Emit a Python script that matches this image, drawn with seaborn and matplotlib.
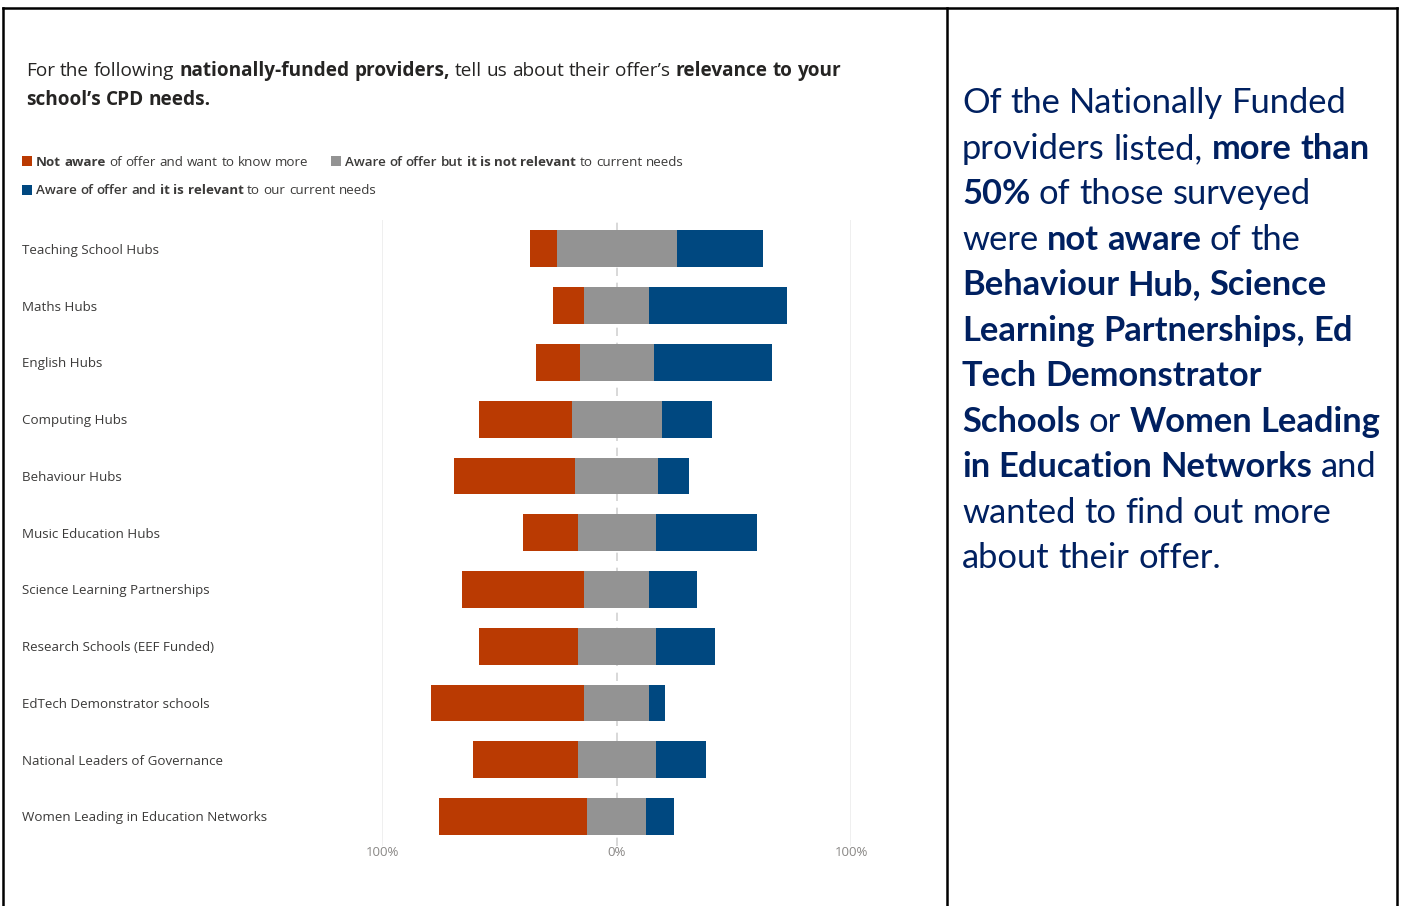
import numpy as np
import pandas as pd
import seaborn as sns
import matplotlib
matplotlib.use("Agg")
import matplotlib.pyplot as plt
from matplotlib.lines import Line2D
from matplotlib.patches import Rectangle

# ---- data -------------------------------------------------------------
providers = [
    "Teaching School Hubs",
    "Maths Hubs",
    "English Hubs",
    "Computing Hubs",
    "Behaviour Hubs",
    "Music Education Hubs",
    "Science Learning Partnerships",
    "Research Schools (EEF Funded)",
    "EdTech Demonstrator schools",
    "National Leaders of Governance",
    "Women Leading in Education Networks",
]
not_aware = [11.4, 13.1, 18.5, 39.8, 51.5, 23.5, 52.1, 42.3, 65.3, 44.8, 63.3]
not_relevant = [51.3, 27.9, 31.6, 38.3, 35.6, 33.3, 27.9, 33.3, 27.9, 33.3, 25.0]
relevant = [36.8, 58.9, 50.4, 21.6, 13.1, 43.1, 20.3, 25.2, 6.7, 21.5, 11.8]
tick_values = [-100, 0, 100]
tick_labels = ["100%", "0%", "100%"]

# ---- style ------------------------------------------------------------
sns.set_theme(style="white")
UI_FONT = ["Open Sans", "DejaVu Sans"]
BODY_FONT = ["Lato", "DejaVu Sans"]
plt.rcParams["font.family"] = UI_FONT

C_ORANGE = "#BA3A02"
C_GREY = "#939393"
C_BLUE = "#004880"
C_NAVY = "#002060"
C_TEXT = "#252423"
C_LABEL = "#3b3a39"

W, H = 1402, 906
fig = plt.figure(figsize=(W / 100, H / 100), dpi=100)
fig.patch.set_facecolor("white")


def fx(x):
    return x / W


def fy(y):
    return 1 - y / H


# ---- diverging stacked bars --------------------------------------------
ax_l, ax_r, ax_t, ax_b = 382.3, 851.0, 220.0, 846.0
ax = fig.add_axes([fx(ax_l), fy(ax_b), (ax_r - ax_l) / W, (ax_b - ax_t) / H])

df = pd.DataFrame({
    "provider": providers,
    "not_aware": not_aware,
    "not_relevant": not_relevant,
    "relevant": relevant,
})
left_grey = -df["not_relevant"] / 2
left_orange = left_grey - df["not_aware"]
left_blue = df["not_relevant"] / 2

for col, left, colour in [
    ("not_aware", left_orange, C_ORANGE),
    ("not_relevant", left_grey, C_GREY),
    ("relevant", left_blue, C_BLUE),
]:
    sns.barplot(
        data=df, y="provider", x=col, order=providers, orient="h",
        left=left.to_numpy(), color=colour, saturation=1, errorbar=None,
        width=0.65, linewidth=0, edgecolor="none", ax=ax, zorder=3,
    )

ax.set_xlim(-100, 100)
ax.set_ylim(len(providers) - 0.48, -0.51)
for v in (-100, 100):
    ax.axvline(v, color="#ececec", lw=1.2, zorder=0)
ax.axvline(0, color="#d2d2d2", lw=1.2, ls=(0, (5, 4)), zorder=0)
for s in ax.spines.values():
    s.set_visible(False)
ax.set_xlabel("")
ax.set_ylabel("")
ax.set_xticks(tick_values)
ax.set_xticklabels(tick_labels)
ax.tick_params(axis="x", length=0, pad=0, labelsize=9.5, labelcolor="#8a8886")
ax.tick_params(axis="y", length=0, pad=(ax_l - 22) * 0.72, labelsize=9.6,
               labelcolor=C_LABEL)
for lab in ax.get_yticklabels():
    lab.set_horizontalalignment("left")

# ---- rich text helpers --------------------------------------------------
renderer = fig.canvas.get_renderer()


def text_width(s, **kw):
    t = fig.text(0, 0, s, **kw)
    w = t.get_window_extent(renderer).width
    t.remove()
    return w


def rich_line(x, y, parts, size, color, family):
    """Draw a line of text made of (string, weight) runs, word by word."""
    base = dict(fontsize=size, family=family)
    words = []
    for s, wt in parts:
        for w in s.split(" "):
            if w:
                words.append((w, wt))
    for i, (w, wt) in enumerate(words):
        kw = dict(base, fontweight=wt)
        t = fig.text(fx(x), fy(y), w, color=color, va="baseline", ha="left", **kw)
        x += t.get_window_extent(renderer).width
        if i < len(words) - 1:
            x += text_width("a a", **kw) - text_width("aa", **kw)


# ---- title ------------------------------------------------------------
rich_line(26, 76, [("For the following", "normal"),
                   ("nationally-funded providers,", "bold"),
                   ("tell us about their offer\u2019s", "normal"),
                   ("relevance to your", "bold")], 13.65, C_TEXT, UI_FONT)
rich_line(26, 105, [("school\u2019s CPD needs.", "bold")], 13.65, C_TEXT, UI_FONT)

# ---- legend -------------------------------------------------------------
legend_items = [
    (22, 161, C_ORANGE, [("Not aware", "bold"), ("of offer and want to know more", "normal")]),
    (331, 161, C_GREY, [("Aware of offer but", "semibold"), ("it is not relevant", "bold"),
                        ("to current needs", "normal")]),
    (22, 190, C_BLUE, [("Aware of offer and", "semibold"), ("it is relevant", "bold"),
                       ("to our current needs", "normal")]),
]
for x0, yc, colour, parts in legend_items:
    fig.add_artist(Rectangle((fx(x0), fy(yc + 5)), 10 / W, 10 / H,
                             transform=fig.transFigure, facecolor=colour,
                             edgecolor="none"))
    rich_line(x0 + 14, yc + 4.5, parts, 9.6, C_LABEL, UI_FONT)

# ---- commentary panel ---------------------------------------------------
commentary = [
    [("Of the Nationally Funded", "normal")],
    [("providers listed,", "normal"), ("more than", "bold")],
    [("50%", "bold"), ("of those surveyed", "normal")],
    [("were", "normal"), ("not aware", "bold"), ("of the", "normal")],
    [("Behaviour Hub, Science", "bold")],
    [("Learning Partnerships, Ed", "bold")],
    [("Tech Demonstrator", "bold")],
    [("Schools", "bold"), ("or", "normal"), ("Women Leading", "bold")],
    [("in Education Networks", "bold"), ("and", "normal")],
    [("wanted to find out more", "normal")],
    [("about their offer.", "normal")],
]
for i, parts in enumerate(commentary):
    rich_line(962, 113.3 + i * 45.5, parts, 24.8, C_NAVY, BODY_FONT)

# ---- table borders ------------------------------------------------------
for (x0, y0, x1, y1) in [(3, 8, 1397, 8), (3, 8, 3, 906), (947, 8, 947, 906),
                         (1397, 8, 1397, 906)]:
    fig.add_artist(Line2D([fx(x0), fx(x1)], [fy(y0), fy(y1)],
                          transform=fig.transFigure, color="black", lw=1.8,
                          solid_capstyle="projecting"))

fig.savefig("out.png", dpi=100, facecolor="white")
